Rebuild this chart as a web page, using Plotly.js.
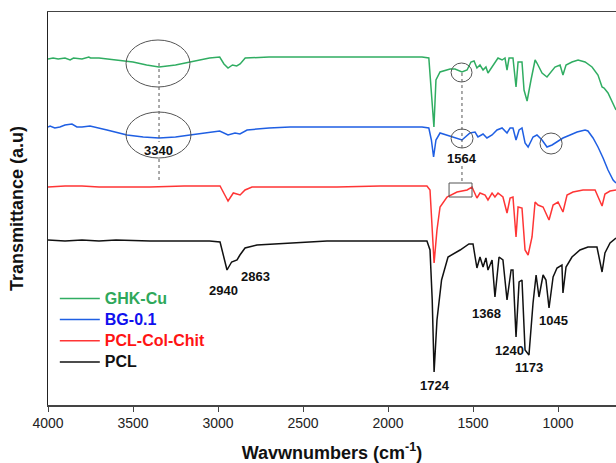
<!DOCTYPE html>
<html>
<head>
<meta charset="utf-8">
<script src="https://cdn.plot.ly/plotly-3.0.1.min.js"></script>
<style>html,body{margin:0;padding:0;background:#fff;}#chart{width:616px;height:463px;}</style>
</head>
<body>
<div id="chart"></div>
<script>
// Series names
const seriesNames = ["GHK-Cu", "BG-0.1", "PCL-Col-Chit", "PCL"];

// GHK-Cu (wavenumber, transmittance a.u.)
const ghkW = [4000,3970,3940,3900,3870,3850,3800,3760,3750,3700,3650,3600,3550,3500,3420,3347,3250,3165,3050,2990,2965,2941,2915,2890,2870,2840,2700,2500,2200,2000,1800,1760,1740,1730,1718,1694,1635,1606,1565,1535,1512,1494,1477,1459,1441,1424,1412,1388,1371,1353,1329,1312,1300,1288,1265,1247,1235,1212,1200,1182,1159,1135,1124,1094,1065,1035,1018,988,971,953,918,882,841,800,765,741,729,706,676,659];
const ghkT = [346,347,346,347,345,347,346,348,347,347,346,345,344,343,340,338,340,343,347,348,341,337,340,339,341,347,348,348,348,348,348,347,305,278,325,333,336,336,333,335,343,344,337,340,335,338,332,338,342,347,345,347,335,347,347,318,343,343,315,304,325,345,342,332,328,335,338,340,330,340,343,345,343,338,330,318,317,312,300,295];

// BG-0.1
const bgW = [4000,3988,3960,3930,3900,3859,3830,3800,3753,3700,3653,3535,3440,3347,3250,3165,3030,2990,2941,2900,2871,2829,2700,2576,2300,2000,1800,1760,1745,1732,1718,1694,1635,1565,1518,1488,1471,1441,1418,1388,1359,1329,1300,1282,1265,1247,1229,1212,1194,1176,1147,1124,1094,1065,1035,1006,971,929,888,841,824,794,765,735,706,676,659];
const bgT = [278,279,277,278,280,281,278,278,279,277,275,270,268,267,268,270,273,274,270,272,271,275,277,278,278,278,278,277,265,248,265,272,269,265,272,273,268,271,267,270,275,277,272,277,277,265,275,277,262,258,268,270,265,258,260,263,267,270,273,275,274,267,258,247,235,225,222];

// PCL-Col-Chit
const pccW = [4000,3900,3800,3700,3600,3400,3200,3050,2988,2960,2941,2910,2880,2870,2841,2800,2600,2300,2047,1800,1771,1753,1729,1712,1694,1653,1594,1535,1506,1477,1459,1429,1412,1388,1371,1353,1324,1300,1282,1265,1247,1235,1212,1194,1176,1153,1135,1118,1088,1053,1029,1000,971,947,912,853,782,741,724,694,659];
const pccT = [218,219,219,218,218,218,219,219,219,210,204,212,211,210,215,218,218,218,219,219,219,215,142,175,198,208,213,215,218,207,212,210,205,212,208,212,208,192,207,208,168,198,197,155,150,168,203,200,198,185,200,203,193,210,213,215,215,199,211,214,215];

// PCL
const pclW = [4000,3900,3800,3700,3600,3400,3200,3050,2988,2960,2947,2920,2888,2871,2841,2771,2576,2359,2047,1800,1771,1753,1740,1729,1712,1685,1647,1576,1524,1500,1477,1459,1441,1424,1412,1388,1371,1347,1324,1300,1276,1265,1247,1229,1212,1194,1171,1147,1129,1112,1088,1071,1053,1029,1006,977,971,953,918,871,824,771,741,724,694,659];
const pclT = [165,164,165,164,165,164,164,164,163,143,135,143,145,150,157,160,162,164,164,164,164,155,105,33,85,125,148,155,161,161,137,148,138,147,135,145,108,148,145,105,135,135,68,123,125,55,50,102,130,108,130,125,97,128,137,140,112,138,148,155,158,158,133,152,162,167];

// Peak labels
const peakLabels = ["3340","1564","2940","2863","1724","1368","1240","1173","1045"];
const peakLabelW = [3353,1565,2965,2782,1724,1418,1288,1171,1029];
const peakLabelT = [255,247,115,129,20,92,55,38,85];

const lineColors = ["#30ad62", "#1f5fe3", "#ff3535", "#111111"];
const textColors = ["#2ea85a", "#1010ee", "#ff1414", "#111111"];
const seriesW = [ghkW, bgW, pccW, pclW];
const seriesT = [ghkT, bgT, pccT, pclT];

const FONT = "Liberation Sans, Arial, sans-serif";

const traces = seriesNames.map((n, i) => ({
  x: seriesW[i], y: seriesT[i], type: "scatter", mode: "lines",
  name: '<b><span style="color:' + textColors[i] + ';font-size:16px">' + n + '</span></b>',
  line: {color: lineColors[i], width: 1.5}
}));

const ann = peakLabels.map((t, i) => ({
  x: peakLabelW[i], y: peakLabelT[i], xref: "x", yref: "y", text: "<b>" + t + "</b>",
  showarrow: false, font: {family: FONT, size: 13, color: "#111"}
}));

const grey = "#555";
const shapes = [
  {type: "circle", xref: "x", yref: "y", x0: 3541, x1: 3165, y0: 318, y1: 365, line: {color: grey, width: 1}},
  {type: "circle", xref: "x", yref: "y", x0: 3541, x1: 3159, y0: 247, y1: 293, line: {color: grey, width: 1}},
  {type: "line", xref: "x", yref: "y", x0: 3347, x1: 3347, y0: 342, y1: 263, line: {color: grey, width: 1, dash: "dot"}},
  {type: "line", xref: "x", yref: "y", x0: 3347, x1: 3347, y0: 246, y1: 223, line: {color: grey, width: 1, dash: "dot"}},
  {type: "circle", xref: "x", yref: "y", x0: 1629, x1: 1506, y0: 323, y1: 342, line: {color: grey, width: 1}},
  {type: "circle", xref: "x", yref: "y", x0: 1629, x1: 1500, y0: 257, y1: 276, line: {color: grey, width: 1}},
  {type: "line", xref: "x", yref: "y", x0: 1565, x1: 1565, y0: 332, y1: 255, line: {color: grey, width: 1, dash: "dot"}},
  {type: "line", xref: "x", yref: "y", x0: 1565, x1: 1565, y0: 239, y1: 222, line: {color: grey, width: 1, dash: "dot"}},
  {type: "rect", xref: "x", yref: "y", x0: 1641, x1: 1506, y0: 208, y1: 222, line: {color: grey, width: 1}},
  {type: "circle", xref: "x", yref: "y", x0: 1106, x1: 976, y0: 251, y1: 272, line: {color: grey, width: 1}}
];

const layout = {
  width: 616, height: 463,
  margin: {l: 48, r: 0, t: 12, b: 58},
  paper_bgcolor: "#fff", plot_bgcolor: "#fff",
  font: {family: FONT, color: "#222"},
  showlegend: true,
  legend: {x: 0.012, y: 0.311, xanchor: "left", yanchor: "top", bgcolor: "rgba(0,0,0,0)",
           font: {family: FONT, size: 14}, traceorder: "normal", itemwidth: 40},
  xaxis: {range: [4000, 659], tick0: 0, dtick: 500, ticks: "outside", ticklen: 5, tickwidth: 1,
          tickcolor: "#444", showline: true, linecolor: "#444", linewidth: 1.5, mirror: true,
          showgrid: false, zeroline: false, tickfont: {family: FONT, size: 14, color: "#222"},
          title: {text: "<b>Wavwnumbers (cm<sup>-1</sup>)</b>", font: {family: FONT, size: 18, color: "#111"}, standoff: 16}},
  yaxis: {range: [0, 393], showticklabels: false, ticks: "", showline: true, linecolor: "#222", linewidth: 1.5,
          showgrid: false, zeroline: false,
          title: {text: "<b>Transmittance (a.u)</b>", font: {family: FONT, size: 18, color: "#111"}, standoff: 18}},
  annotations: ann,
  shapes: shapes
};

Plotly.newPlot("chart", traces, layout, {displayModeBar: false, staticPlot: true});
</script>
</body>
</html>
